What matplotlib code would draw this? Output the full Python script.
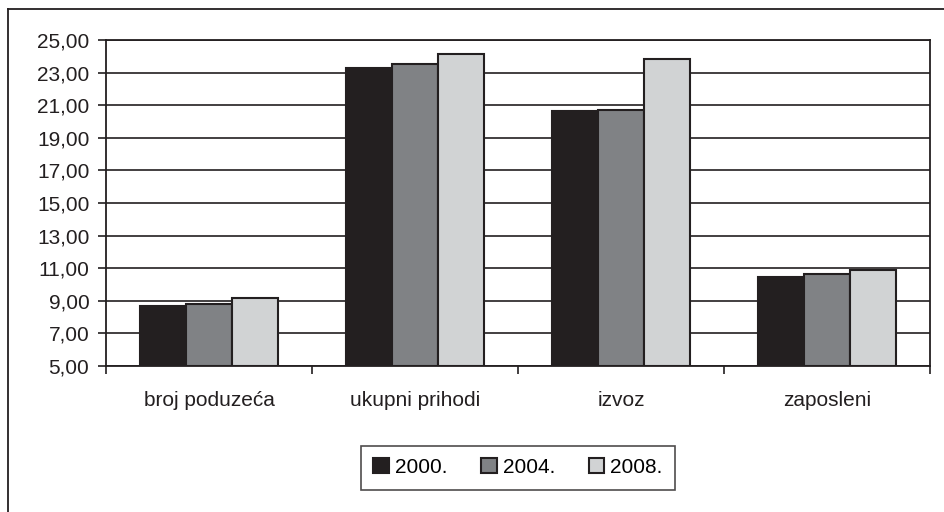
import numpy as np
import matplotlib
matplotlib.use('Agg')
import matplotlib.pyplot as plt
from matplotlib.lines import Line2D
from matplotlib.ticker import FuncFormatter

categories = ['broj poduzeća', 'ukupni prihodi', 'izvoz', 'zaposleni']
years = ['2000.', '2004.', '2008.']
v2000 = [8.69, 23.29, 20.63, 10.48]
v2004 = [8.83, 23.53, 20.73, 10.65]
v2008 = [9.18, 24.15, 23.84, 10.92]
yticks = np.arange(5, 26, 2)

colors = ['#231f20', '#808285', '#d1d3d4']
edge = '#231f20'

plt.rcParams['font.family'] = ['Liberation Sans', 'DejaVu Sans']
plt.rcParams['font.size'] = 15

fig = plt.figure(figsize=(9.45, 5.12), dpi=100)
ax = fig.add_axes([106 / 945, 1 - 366 / 512, 824 / 945, 326 / 512])

x = np.arange(len(categories))
w = 0.67 / 3
for i, (vals, lab) in enumerate(zip([v2000, v2004, v2008], years)):
    ax.bar(x + (i - 1) * w, np.array(vals) - 5, bottom=5, width=w,
           color=colors[i], edgecolor=edge, linewidth=1.5, label=lab, zorder=3)

ax.set_ylim(5, 25)
ax.set_xlim(-0.5, len(categories) - 0.5)
ax.set_yticks(yticks)
ax.yaxis.set_major_formatter(FuncFormatter(lambda v, p: f'{v:.2f}'.replace('.', ',')))
ax.grid(axis='y', color='#231f20', linewidth=1.2, zorder=0)
ax.set_axisbelow(True)

ax.set_xticks(x)
ax.set_xticklabels(categories)
ax.set_xticks(np.arange(len(categories) + 1) - 0.5, minor=True)
ax.tick_params(axis='x', which='major', length=0, pad=18, colors='#231f20')
ax.tick_params(axis='x', which='minor', length=6, width=1.2, color='#231f20')
ax.tick_params(axis='y', length=6, width=1.2, pad=6, colors='#231f20')
for s in ax.spines.values():
    s.set_color('#231f20')
    s.set_linewidth(1.3)

leg = fig.legend(loc='center', bbox_to_anchor=(518 / 945, 1 - 467.5 / 512), ncol=3,
                 frameon=True, fancybox=False, edgecolor='#231f20',
                 handlelength=0.75, handleheight=0.75, handletextpad=0.3,
                 columnspacing=1.6, borderpad=0.6)
leg.get_frame().set_linewidth(1.2)

# outer chart frame
fig.add_artist(Line2D([8.5 / 945, 8.5 / 945], [0, 1 - 9 / 512], transform=fig.transFigure,
                      color='#231f20', linewidth=1.3))
fig.add_artist(Line2D([8 / 945, 1], [1 - 9 / 512, 1 - 9 / 512], transform=fig.transFigure,
                      color='#231f20', linewidth=1.3))

fig.savefig('out.png', dpi=100)
